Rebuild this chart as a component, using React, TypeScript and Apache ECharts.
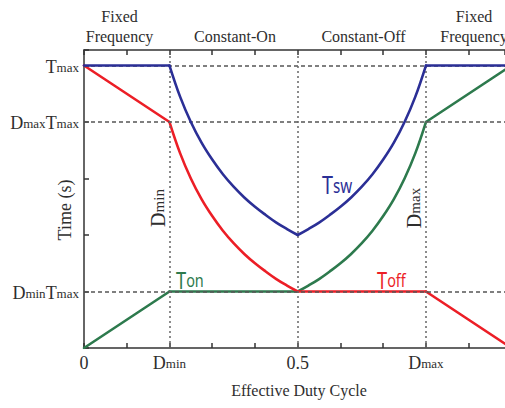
import React, { useEffect, useRef } from 'react';
import * as echarts from 'echarts';

// Operating-mode boundaries on the duty-cycle axis
const D_MIN = 0.2;
const D_MAX = 0.8;
const HALF = 0.5;

// Sampled duty-cycle points and the normalised times (fractions of Tmax)
const duty = [0, 0.2, 0.225, 0.25, 0.275, 0.3, 0.325, 0.35, 0.375, 0.4, 0.425, 0.45, 0.475, 0.5, 0.525, 0.55, 0.575, 0.6, 0.625, 0.65, 0.675, 0.7, 0.725, 0.75, 0.775, 0.8, 1];
const tSw = [1, 1, 0.889, 0.8, 0.727, 0.667, 0.615, 0.571, 0.533, 0.5, 0.471, 0.444, 0.421, 0.4, 0.421, 0.444, 0.471, 0.5, 0.533, 0.571, 0.615, 0.667, 0.727, 0.8, 0.889, 1, 1];
const tOn = [0, 0.2, 0.2, 0.2, 0.2, 0.2, 0.2, 0.2, 0.2, 0.2, 0.2, 0.2, 0.2, 0.2, 0.221, 0.244, 0.271, 0.3, 0.333, 0.371, 0.415, 0.467, 0.527, 0.6, 0.689, 0.8, 1];
const tOff = [1, 0.8, 0.689, 0.6, 0.527, 0.467, 0.415, 0.371, 0.333, 0.3, 0.271, 0.244, 0.221, 0.2, 0.2, 0.2, 0.2, 0.2, 0.2, 0.2, 0.2, 0.2, 0.2, 0.2, 0.2, 0.2, 0];

// Tick labels
const xTickValues = [0, D_MIN, HALF, D_MAX];
const xTickLabels = ['{b|0}', '{b|D}{s|min}', '{b|0.5}', '{b|D}{s|max}'];
const yTickValues = [1, D_MAX, D_MIN];
const yTickLabels = ['{b|T}{s|max}', '{b|D}{s|max}{b|T}{s|max}', '{b|D}{s|min}{b|T}{s|max}'];

// Guide lines
const hGuides = [1, D_MAX, D_MIN];
const vGuides = [D_MIN, HALF, D_MAX];

const regionLabels = ['Fixed\nFrequency', 'Constant-On', 'Constant-Off', 'Fixed\nFrequency'];

const SERIF = '"Liberation Serif", "Times New Roman", serif';
const SANS = '"Noto Sans", "Open Sans", sans-serif';
const INK = '#2e2e2e';
const BLUE = '#2b2f96';
const RED = '#ec1e26';
const GREEN = '#2d7a4d';

const richTick = {
  b: { fontSize: 18, fontFamily: SERIF, color: INK, verticalAlign: 'bottom', lineHeight: 20 },
  s: { fontSize: 13, fontFamily: SERIF, color: INK, verticalAlign: 'bottom', lineHeight: 20, padding: [0, 0, 2, 0] },
};

const pick = (values: number[], labels: string[]) => (v: number) => {
  const i = values.findIndex((t) => Math.abs(t - v) < 1e-6);
  return i >= 0 ? labels[i] : '';
};

const curveLabel = (x: number, y: number, sub: string, color: string, big: number, small: number) => ({
  type: 'text',
  x,
  y,
  scaleX: 0.76,
  z: 10,
  style: {
    text: `{b|T}{s|${sub}}`,
    align: 'left',
    verticalAlign: 'bottom',
    rich: {
      b: { fontSize: big, fontFamily: SANS, fill: color, color, verticalAlign: 'bottom', lineHeight: big + 4 },
      s: { fontSize: small, fontFamily: SANS, fill: color, color, verticalAlign: 'bottom', lineHeight: big + 4, padding: [0, 0, 2, 0] },
    },
  },
});

const rotatedLabel = (x: number, y: number, sub: string) => ({
  type: 'text',
  x,
  y,
  rotation: Math.PI / 2,
  z: 10,
  style: {
    text: `{b|D}{s|${sub}}`,
    align: 'center',
    verticalAlign: 'middle',
    rich: {
      b: { fontSize: 20, fontFamily: SERIF, fill: INK, color: INK, verticalAlign: 'bottom', lineHeight: 22 },
      s: { fontSize: 15, fontFamily: SERIF, fill: INK, color: INK, verticalAlign: 'bottom', lineHeight: 22, padding: [0, 0, 2, 0] },
    },
  },
});

const plainText = (x: number, y: number, text: string, size: number, rotation = 0) => ({
  type: 'text',
  x,
  y,
  rotation,
  style: {
    text,
    fontSize: size,
    fontFamily: SERIF,
    fill: INK,
    align: 'center',
    verticalAlign: 'middle',
    lineHeight: size + 4,
  },
});

// Each curve is drawn piecewise so the kinks at Dmin, 0.5 and Dmax stay sharp
const breaks = [0, duty.indexOf(D_MIN), duty.indexOf(HALF), duty.indexOf(D_MAX), duty.length - 1];

const curveSeries = (name: string, values: number[], color: string, z: number) =>
  breaks.slice(0, -1).map((start, k) => ({
    name,
    type: 'line',
    data: duty.slice(start, breaks[k + 1] + 1).map((d, i) => [d, values[start + i]]),
    showSymbol: false,
    symbol: 'none',
    smooth: 0.4,
    clip: true,
    z,
    lineStyle: { color, width: 2.6, cap: 'round', join: 'round' },
    emphasis: { disabled: true },
  }));

export default function App() {
  const ref = useRef<HTMLDivElement>(null);

  useEffect(() => {
    if (!ref.current) return;
    const chart = echarts.init(ref.current, null, { renderer: 'svg' });

    const axisLine = { show: true, lineStyle: { color: '#333', width: 1.5 } };
    const axisTick = { show: true, inside: true, length: 5, lineStyle: { color: '#333', width: 1.5 } };

    chart.setOption({
      animation: false,
      backgroundColor: '#fff',
      grid: { left: 84, right: 0, top: 50, bottom: 60, outerBoundsMode: 'none' },
      xAxis: [
        {
          type: 'value',
          min: 0,
          max: 0.985,
          interval: 0.1,
          position: 'bottom',
          axisLine,
          axisTick,
          splitLine: { show: false },
          axisLabel: {
            margin: 4,
            formatter: pick(xTickValues, xTickLabels),
            rich: richTick,
            showMaxLabel: false,
          },
        },
        {
          type: 'value',
          min: 0,
          max: 0.985,
          interval: 0.1,
          position: 'top',
          axisLine,
          axisTick,
          splitLine: { show: false },
          axisLabel: { show: false },
        },
      ],
      yAxis: {
        type: 'value',
        min: 0,
        max: 1.055,
        interval: 0.2,
        axisLine,
        axisTick,
        splitLine: { show: false },
        axisLabel: {
          margin: 5,
          formatter: pick(yTickValues, yTickLabels),
          rich: richTick,
        },
      },
      series: [
        {
          name: 'guides',
          type: 'line',
          data: [],
          z: 1,
          markLine: {
            silent: true,
            symbol: 'none',
            label: { show: false },
            emphasis: { disabled: true },
            data: [
              ...hGuides.map((v) => ({ yAxis: v, lineStyle: { color: '#555', width: 1.6, type: [4, 3] } })),
              ...vGuides.map((v) => ({ xAxis: v, lineStyle: { color: '#666', width: 1.5, type: [2, 3] } })),
            ],
          },
        },
        ...curveSeries('Ton', tOn, GREEN, 3),
        ...curveSeries('Toff', tOff, RED, 4),
        ...curveSeries('Tsw', tSw, BLUE, 5),
      ],
      graphic: [
        plainText(119.5, 26, regionLabels[0], 16),
        plainText(235, 36, regionLabels[1], 16),
        plainText(363.5, 36, regionLabels[2], 16),
        plainText(474, 26, regionLabels[3], 16),
        plainText(65, 210, 'Time (s)', 18, Math.PI / 2),
        plainText(299, 390, 'Effective Duty Cycle', 16),
        rotatedLabel(157, 208, 'min'),
        rotatedLabel(413, 208, 'max'),
        curveLabel(322, 197, 'sw', BLUE, 26, 20),
        curveLabel(176, 291, 'on', GREEN, 24, 19),
        curveLabel(377, 291, 'off', RED, 24, 19),
      ],
    });

    return () => chart.dispose();
  }, []);

  return (
    <div
      ref={ref}
      style={{ position: 'fixed', left: 0, top: 0, width: 505, height: 408, background: '#fff' }}
    />
  );
}
